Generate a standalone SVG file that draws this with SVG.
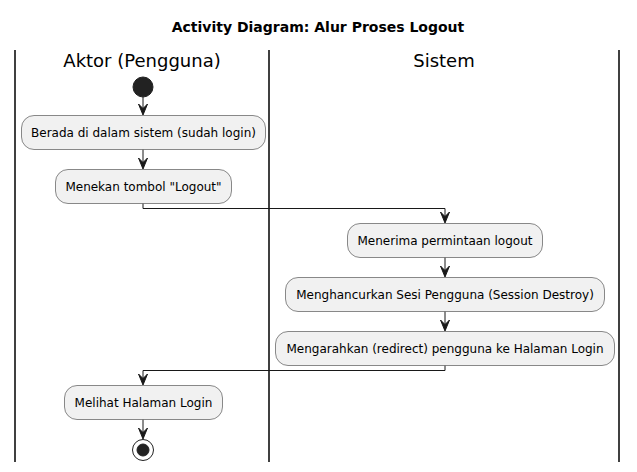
<svg xmlns="http://www.w3.org/2000/svg" width="637" height="472" viewBox="0 0 637 472">
<defs>
<style>
.lane{stroke:#000000;stroke-width:1.5;fill:none}
.box{fill:#F1F1F1;stroke:#181818;stroke-width:0.5}
.t{font-family:"DejaVu Sans",sans-serif;font-size:12px;fill:#000000;text-anchor:middle}
.h{font-family:"DejaVu Sans",sans-serif;font-size:18px;fill:#000000;text-anchor:middle}
.title{font-family:"DejaVu Sans",sans-serif;font-size:14px;font-weight:bold;fill:#000000;text-anchor:middle}
.c{stroke:#181818;stroke-width:1;fill:none}
.ah{fill:#181818;stroke:#181818;stroke-width:1}
</style>
</defs>
<rect width="637" height="472" fill="#FFFFFF"/>
<text class="title" x="318" y="32">Activity Diagram: Alur Proses Logout</text>
<g id="lanes">
<line class="lane" x1="15" y1="50" x2="15" y2="462"/>
<line class="lane" x1="269" y1="50" x2="269" y2="462"/>
<line class="lane" x1="619" y1="50" x2="619" y2="462"/>
<text class="h" x="142" y="67">Aktor (Pengguna)</text>
<text class="h" x="444" y="67">Sistem</text>
</g>
<g id="connectors">
<line class="c" x1="143" y1="97" x2="143" y2="113"/>
<path class="ah" d="M138.5,104 L143,115 L147.5,104 L143,108.5 Z"/>
<line class="c" x1="143" y1="149.5" x2="143" y2="167"/>
<path class="ah" d="M138.5,158 L143,169 L147.5,158 L143,162.5 Z"/>
<polyline class="c" points="143,203.5 143,208.5 445,208.5 445,221"/>
<path class="ah" d="M440.5,212 L445,223 L449.5,212 L445,216.5 Z"/>
<line class="c" x1="445" y1="257.5" x2="445" y2="275"/>
<path class="ah" d="M440.5,266 L445,277 L449.5,266 L445,270.5 Z"/>
<line class="c" x1="445" y1="311.5" x2="445" y2="329"/>
<path class="ah" d="M440.5,320 L445,331 L449.5,320 L445,324.5 Z"/>
<polyline class="c" points="445,365.5 445,370.5 143,370.5 143,383"/>
<path class="ah" d="M138.5,374 L143,385 L147.5,374 L143,378.5 Z"/>
<line class="c" x1="143" y1="419.5" x2="143" y2="437"/>
<path class="ah" d="M138.5,428 L143,439 L147.5,428 L143,432.5 Z"/>
</g>
<g id="start">
<circle cx="143" cy="87" r="10" fill="#222222" stroke="#222222" stroke-width="1"/>
</g>
<g id="n1">
<rect class="box" x="21.5" y="115.5" width="244" height="34" rx="12.5" ry="12.5"/>
<text class="t" x="143.5" y="137">Berada di dalam sistem (sudah login)</text>
</g>
<g id="n2">
<rect class="box" x="55.5" y="169.5" width="176" height="34" rx="12.5" ry="12.5"/>
<text class="t" x="143.5" y="191">Menekan tombol "Logout"</text>
</g>
<g id="n3">
<rect class="box" x="347.5" y="223.5" width="195" height="34" rx="12.5" ry="12.5"/>
<text class="t" x="445" y="245">Menerima permintaan logout</text>
</g>
<g id="n4">
<rect class="box" x="285.5" y="277.5" width="319" height="34" rx="12.5" ry="12.5"/>
<text class="t" x="445" y="299">Menghancurkan Sesi Pengguna (Session Destroy)</text>
</g>
<g id="n5">
<rect class="box" x="275.5" y="331.5" width="339" height="34" rx="12.5" ry="12.5"/>
<text class="t" x="445" y="353">Mengarahkan (redirect) pengguna ke Halaman Login</text>
</g>
<g id="n6">
<rect class="box" x="64.5" y="385.5" width="158" height="34" rx="12.5" ry="12.5"/>
<text class="t" x="143.5" y="407">Melihat Halaman Login</text>
</g>
<g id="end">
<circle cx="143" cy="450" r="10.5" fill="none" stroke="#222222" stroke-width="1"/>
<circle cx="143" cy="450" r="6" fill="#222222" stroke="#222222" stroke-width="1"/>
</g>
</svg>
